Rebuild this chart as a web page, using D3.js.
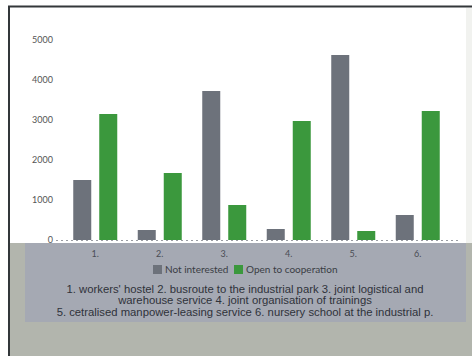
<!DOCTYPE html>
<html>
<head>
<meta charset="utf-8">
<script src="https://cdn.jsdelivr.net/npm/d3@7"></script>
<style>
  body { margin: 0; background: #fff; }
  svg { display: block; font-family: "Liberation Sans", Arial, sans-serif; }
</style>
</head>
<body>
<svg id="chart" width="472" height="356"></svg>
<script>
const categories = ["1.", "2.", "3.", "4.", "5.", "6."];
const notInterested = [1500, 250, 3725, 275, 4625, 625];
const openToCoop = [3150, 1675, 875, 2975, 225, 3225];
const yTicks = [0, 1000, 2000, 3000, 4000, 5000];
const seriesNames = ["Not interested", "Open to cooperation"];
const seriesColors = ["#6d727b", "#3b983d"];
const noteLines = [
  "1. workers' hostel 2. busroute to the industrial park 3. joint logistical and",
  "warehouse service 4. joint organisation of trainings",
  "5. cetralised manpower-leasing service 6. nursery school at the industrial p."
];

const svg = d3.select("#chart");
const W = 472, H = 356;

// scanned page background
svg.append("rect").attr("x", 0).attr("y", 0).attr("width", W).attr("height", H).attr("fill", "#fff");
svg.append("rect").attr("x", 9).attr("y", 243).attr("width", W - 9).attr("height", H - 243).attr("fill", "#b2b5ad");
svg.append("rect").attr("x", 25).attr("y", 243).attr("width", 441).attr("height", 79).attr("fill", "#a5a9b3");
svg.append("rect").attr("x", 466).attr("y", 8).attr("width", 6).attr("height", 235).attr("fill", "#f1f2ef");
// frame
svg.append("line").attr("x1", 8).attr("x2", W).attr("y1", 6.5).attr("y2", 6.5).attr("stroke", "#33373a").attr("stroke-width", 2);
svg.append("line").attr("x1", 9).attr("x2", 9).attr("y1", 6).attr("y2", H).attr("stroke", "#33373a").attr("stroke-width", 2);

const x = d3.scaleBand().domain(categories).range([63, 450]).paddingInner(0).paddingOuter(0);
const y = d3.scaleLinear().domain([0, 5000]).range([240, 40]);

// zero line
svg.append("line")
  .attr("x1", 56).attr("x2", 458)
  .attr("y1", y(0) + 0.5).attr("y2", y(0) + 0.5)
  .attr("stroke", "#9a9da3").attr("stroke-dasharray", "2,3");

const yAxis = svg.append("g").attr("transform", "translate(53,0)")
  .call(d3.axisLeft(y).tickValues(yTicks).tickFormat(d3.format("d")).tickSize(0).tickPadding(0));
yAxis.select(".domain").remove();
yAxis.selectAll("text").attr("font-size", 9).attr("fill", "#555").attr("font-family", "Lato, sans-serif");

const xAxis = svg.append("g").attr("transform", "translate(0,251)")
  .call(d3.axisBottom(x).tickSize(0).tickPadding(0));
xAxis.select(".domain").remove();
xAxis.selectAll("text").attr("font-size", 9).attr("fill", "#4a4d55").attr("font-family", "Lato, sans-serif");

const barW = 18, gap = 8;
const groups = [notInterested, openToCoop];
groups.forEach((vals, s) => {
  svg.append("g").selectAll("rect").data(vals).join("rect")
    .attr("x", (d, i) => x(categories[i]) + x.bandwidth() / 2 - barW - gap / 2 + s * (barW + gap))
    .attr("y", d => y(d))
    .attr("width", barW)
    .attr("height", d => y(0) - y(d))
    .attr("fill", seriesColors[s]);
});

// legend
const legend = svg.append("g").attr("font-size", 10).attr("fill", "#3a3d44").attr("font-family", "Lato, sans-serif");
const legendX = [153, 234];
seriesNames.forEach((n, i) => {
  legend.append("rect").attr("x", legendX[i]).attr("y", 265).attr("width", 9).attr("height", 9).attr("fill", seriesColors[i]);
  legend.append("text").attr("x", legendX[i] + 12).attr("y", 273).text(n);
});

svg.append("g").selectAll("text").data(noteLines).join("text")
  .attr("x", 245).attr("y", (d, i) => 293 + i * 11.3)
  .attr("text-anchor", "middle").attr("font-size", 11.3).attr("fill", "#2f323a")
  .text(d => d);
</script>
</body>
</html>
